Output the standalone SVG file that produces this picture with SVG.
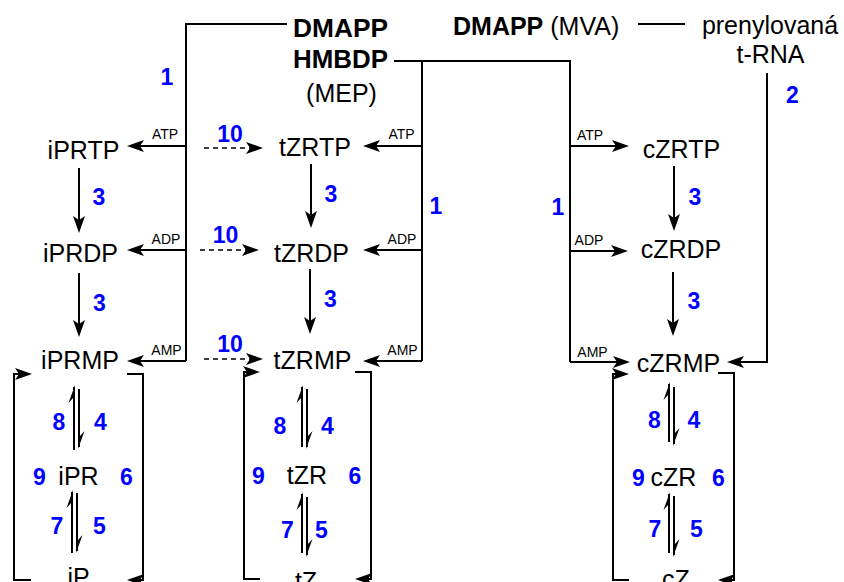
<svg xmlns="http://www.w3.org/2000/svg" xmlns:xlink="http://www.w3.org/1999/xlink" width="844" height="582" viewBox="0 0 844 582">
<defs>
<style>
text{font-family:"Liberation Sans",Arial,sans-serif;fill:#000}
.m{font-size:25px;text-anchor:middle}
.b{font-size:25px;font-weight:bold}
.s{font-size:14px;text-anchor:middle}
.n{font-size:23px;font-weight:bold;fill:#0000ff;text-anchor:middle}
.ln{fill:none;stroke:#000;stroke-width:2}
.ar{fill:none;stroke:#000;stroke-width:2;marker-end:url(#ah)}
.da{fill:none;stroke:#000;stroke-width:1.5;stroke-dasharray:5 4;marker-end:url(#ah)}
</style>
<marker id="ah" markerUnits="userSpaceOnUse" markerWidth="22" markerHeight="14" viewBox="-16 -7 22 14" refX="0" refY="0" orient="auto">
<path d="M3,0 L-14,-6 L-10,0 L-14,6 Z" fill="#000"/>
</marker>
<path id="hu" d="M1,0 L-5.5,18 L-1,13 L1,13 Z" fill="#000"/>
<path id="hd" d="M-1,0 L5.5,-18 L1,-13 L-1,-13 Z" fill="#000"/>
</defs>
<rect width="844" height="582" fill="#fff"/>

<g id="connectors">
<path class="ln" d="M287,24 H186 V361"/>
<path class="ar" d="M186,146 H130"/>
<path class="ar" d="M186,250 H130"/>
<path class="ar" d="M186,361 H130"/>
<path class="ln" d="M394,61 H570 V362"/>
<path class="ln" d="M422,61 V361"/>
<path class="ar" d="M422,146 H366"/>
<path class="ar" d="M422,250 H366"/>
<path class="ar" d="M422,361 H366"/>
<path class="ar" d="M570,146 H626"/>
<path class="ar" d="M570,251 H625"/>
<path class="ar" d="M570,362 H627"/>
<path class="ln" d="M638,24 H685"/>
<path class="ar" d="M767,73 V362 H730"/>
<path class="ar" d="M79,168 V230"/>
<path class="ar" d="M79,273 V334"/>
<path class="ar" d="M311,164 V225"/>
<path class="ar" d="M310,269 V331"/>
<path class="ar" d="M674,166 V228"/>
<path class="ar" d="M673,272 V333"/>
<path class="da" d="M204,148 H260"/>
<path class="da" d="M200,250 H256"/>
<path class="da" d="M204,359 H260"/>
<path class="ar" d="M31,580 H14 V374 H29"/>
<path class="ar" d="M127,374 H143 V580 H130"/>
<path class="ar" d="M260,579 H244 V372 H257"/>
<path class="ar" d="M355,372 H371 V579 H358"/>
<path class="ar" d="M629,580 H613 V374 H626"/>
<path class="ar" d="M718,373 H734 V580 H721"/>
<path class="ln" d="M74,450 V387"/><use xlink:href="#hu" x="74" y="385"/>
<path class="ln" d="M79,389 V447"/><use xlink:href="#hd" x="79" y="449"/>
<path class="ln" d="M72,553 V492"/><use xlink:href="#hu" x="72" y="490"/>
<path class="ln" d="M77,493 V551"/><use xlink:href="#hd" x="77" y="553"/>
<path class="ln" d="M302,447 V387"/><use xlink:href="#hu" x="302" y="385"/>
<path class="ln" d="M307,389 V447"/><use xlink:href="#hd" x="307" y="449"/>
<path class="ln" d="M302,553 V494"/><use xlink:href="#hu" x="302" y="492"/>
<path class="ln" d="M307,497 V555"/><use xlink:href="#hd" x="307" y="557"/>
<path class="ln" d="M669,442 V384"/><use xlink:href="#hu" x="669" y="382"/>
<path class="ln" d="M674,387 V444"/><use xlink:href="#hd" x="674" y="446"/>
<path class="ln" d="M669,553 V494"/><use xlink:href="#hu" x="669" y="492"/>
<path class="ln" d="M674,496 V555"/><use xlink:href="#hd" x="674" y="557"/>
</g>

<g id="sources">
<text class="b" x="293" y="37" textLength="95" lengthAdjust="spacingAndGlyphs">DMAPP</text>
<text class="b" x="293" y="68" textLength="95" lengthAdjust="spacingAndGlyphs">HMBDP</text>
<text class="m" x="341.5" y="102">(MEP)</text>
<text x="453" y="35" style="font-size:25px"><tspan font-weight="bold">DMAPP</tspan> (MVA)</text>
<text class="m" x="770" y="34">prenylovaná</text>
<text class="m" x="770.5" y="63">t-RNA</text>
</g>

<g id="n-iPRTP"><text class="m" x="83.5" y="159">iPRTP</text></g>
<g id="n-iPRDP"><text class="m" x="80.5" y="262">iPRDP</text></g>
<g id="n-iPRMP"><text class="m" x="80" y="369">iPRMP</text></g>
<g id="n-iPR"><text class="m" x="78.5" y="485">iPR</text></g>
<g id="n-iP"><text class="m" x="78.5" y="586">iP</text></g>
<g id="n-tZRTP"><text class="m" x="315" y="156">tZRTP</text></g>
<g id="n-tZRDP"><text class="m" x="311.5" y="262">tZRDP</text></g>
<g id="n-tZRMP"><text class="m" x="312.5" y="369">tZRMP</text></g>
<g id="n-tZR"><text class="m" x="307" y="484">tZR</text></g>
<g id="n-tZ"><text class="m" x="306" y="590">tZ</text></g>
<g id="n-cZRTP"><text class="m" x="681.5" y="158">cZRTP</text></g>
<g id="n-cZRDP"><text class="m" x="681" y="258">cZRDP</text></g>
<g id="n-cZRMP"><text class="m" x="678.5" y="372">cZRMP</text></g>
<g id="n-cZR"><text class="m" x="673.5" y="486">cZR</text></g>
<g id="n-cZ"><text class="m" x="676" y="588">cZ</text></g>

<g id="cofactors">
<text class="s" x="165" y="139">ATP</text>
<text class="s" x="166" y="244">ADP</text>
<text class="s" x="166.5" y="355">AMP</text>
<text class="s" x="401.5" y="139">ATP</text>
<text class="s" x="402" y="244">ADP</text>
<text class="s" x="402.5" y="355">AMP</text>
<text class="s" x="590" y="140">ATP</text>
<text class="s" x="589" y="245">ADP</text>
<text class="s" x="592.5" y="357">AMP</text>
</g>

<g id="enzymes">
<text class="n" x="167" y="85">1</text>
<text class="n" x="436" y="214">1</text>
<text class="n" x="558" y="215">1</text>
<text class="n" x="792.5" y="103">2</text>
<text class="n" x="230" y="142">10</text>
<text class="n" x="225.5" y="243">10</text>
<text class="n" x="230" y="352">10</text>
<text class="n" x="99" y="205">3</text>
<text class="n" x="99.5" y="311">3</text>
<text class="n" x="331" y="202">3</text>
<text class="n" x="330.5" y="307">3</text>
<text class="n" x="695" y="205">3</text>
<text class="n" x="694" y="309">3</text>
<text class="n" x="59" y="430">8</text>
<text class="n" x="100.5" y="430">4</text>
<text class="n" x="39.5" y="485">9</text>
<text class="n" x="126.5" y="485">6</text>
<text class="n" x="57" y="534">7</text>
<text class="n" x="99.5" y="534">5</text>
<text class="n" x="280" y="434">8</text>
<text class="n" x="327.5" y="434">4</text>
<text class="n" x="258.5" y="484">9</text>
<text class="n" x="355" y="484">6</text>
<text class="n" x="287.5" y="538">7</text>
<text class="n" x="321.5" y="538">5</text>
<text class="n" x="654.5" y="428">8</text>
<text class="n" x="694" y="428">4</text>
<text class="n" x="638.5" y="486">9</text>
<text class="n" x="718.5" y="486">6</text>
<text class="n" x="655" y="537">7</text>
<text class="n" x="696.5" y="537">5</text>
</g>
</svg>
